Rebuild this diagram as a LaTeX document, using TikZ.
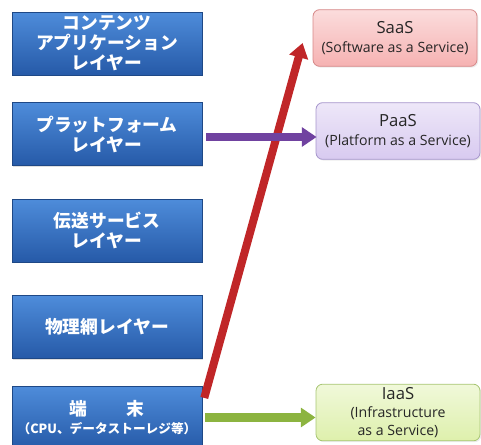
\documentclass[tikz,border=0pt]{standalone}
\usepackage{fontspec}
\setmainfont{Open Sans}
\newfontfamily\jp{Noto Sans CJK JP}
\usetikzlibrary{arrows.meta,positioning,calc,shadows}

\definecolor{layertop}{RGB}{78,140,218}
\definecolor{layerbot}{RGB}{38,90,168}
\definecolor{saasfill}{RGB}{246,178,178}
\definecolor{saasline}{RGB}{214,136,136}
\definecolor{paasfill}{RGB}{216,202,240}
\definecolor{paasline}{RGB}{166,150,204}
\definecolor{iaasfill}{RGB}{222,240,172}
\definecolor{iaasline}{RGB}{168,198,116}
\definecolor{arrred}{RGB}{192,38,40}
\definecolor{arrpurple}{RGB}{112,66,160}
\definecolor{arrgreen}{RGB}{140,180,64}

\newcommand{\subsize}{\fontsize{10.6}{11}\selectfont}
\newcommand{\notesize}{\fontsize{9.5}{11}\selectfont}

\begin{document}
\begin{tikzpicture}[x=0.75pt, y=-0.75pt,
  layer/.style={minimum width=142.5pt, minimum height=47pt, inner sep=0pt,
    top color=layertop, bottom color=layerbot, draw=layerbot!80!black, line width=0.4pt,
    drop shadow={opacity=0.25, shadow xshift=1pt, shadow yshift=-1.2pt},
    text=white, align=center, font=\jp\bfseries\fontsize{13.3}{15}\selectfont},
  service/.style={minimum width=123pt, minimum height=42.5pt, inner sep=0pt,
    rounded corners=5pt, line width=0.6pt, align=center, text=black!85,
    drop shadow={opacity=0.15, shadow xshift=1pt, shadow yshift=-1pt},
    font=\fontsize{12.5}{14.5}\selectfont},
  block/.style={line width=6pt, -{Triangle[width=14pt, length=11pt]}},
]
\useasboundingbox (0,0) rectangle (481,445);

% layers on the left
\node[layer] (cont) at (107,43.5) {コンテンツ\\アプリケーション\\レイヤー};
\node[layer] (plat) at (107,134) {プラットフォーム\\レイヤー};
\node[layer] (trans) at (107,230.5) {伝送サービス\\レイヤー};
\node[layer] (phys) at (107,327) {物理網レイヤー};
\node[layer] (term) at (107,417.5) {端\hspace{2.2em}末\\[-2pt]\notesize （CPU、データストーレジ等）};

% service models on the right
\node[service, top color=saasfill!45, bottom color=saasfill, draw=saasline] (saas) at (395,38)
  {SaaS\\\subsize (Software as a Service)};
\node[service, top color=paasfill!45, bottom color=paasfill, draw=paasline] (paas) at (398,131)
  {PaaS\\\subsize (Platform as a Service)};
\node[service, top color=iaasfill!45, bottom color=iaasfill, draw=iaasline] (iaas) at (398,412.5)
  {IaaS\\[-1pt]\subsize (Infrastructure\\[-1.5pt]\subsize as a Service)};

% arrows
\draw[block, arrred] ($(term.north east)+(2,12)$) -- ($(saas.west)+(-10,5)$);
\draw[block, arrpurple] ($(plat.east)+(4,3)$) -- ($(plat.east -| paas.west)+(1,3)$);
\draw[block, arrgreen, line width=7pt] ($(term.east)+(3,0)$) -- ($(term.east -| iaas.west)+(0,0)$);
\end{tikzpicture}
\end{document}
